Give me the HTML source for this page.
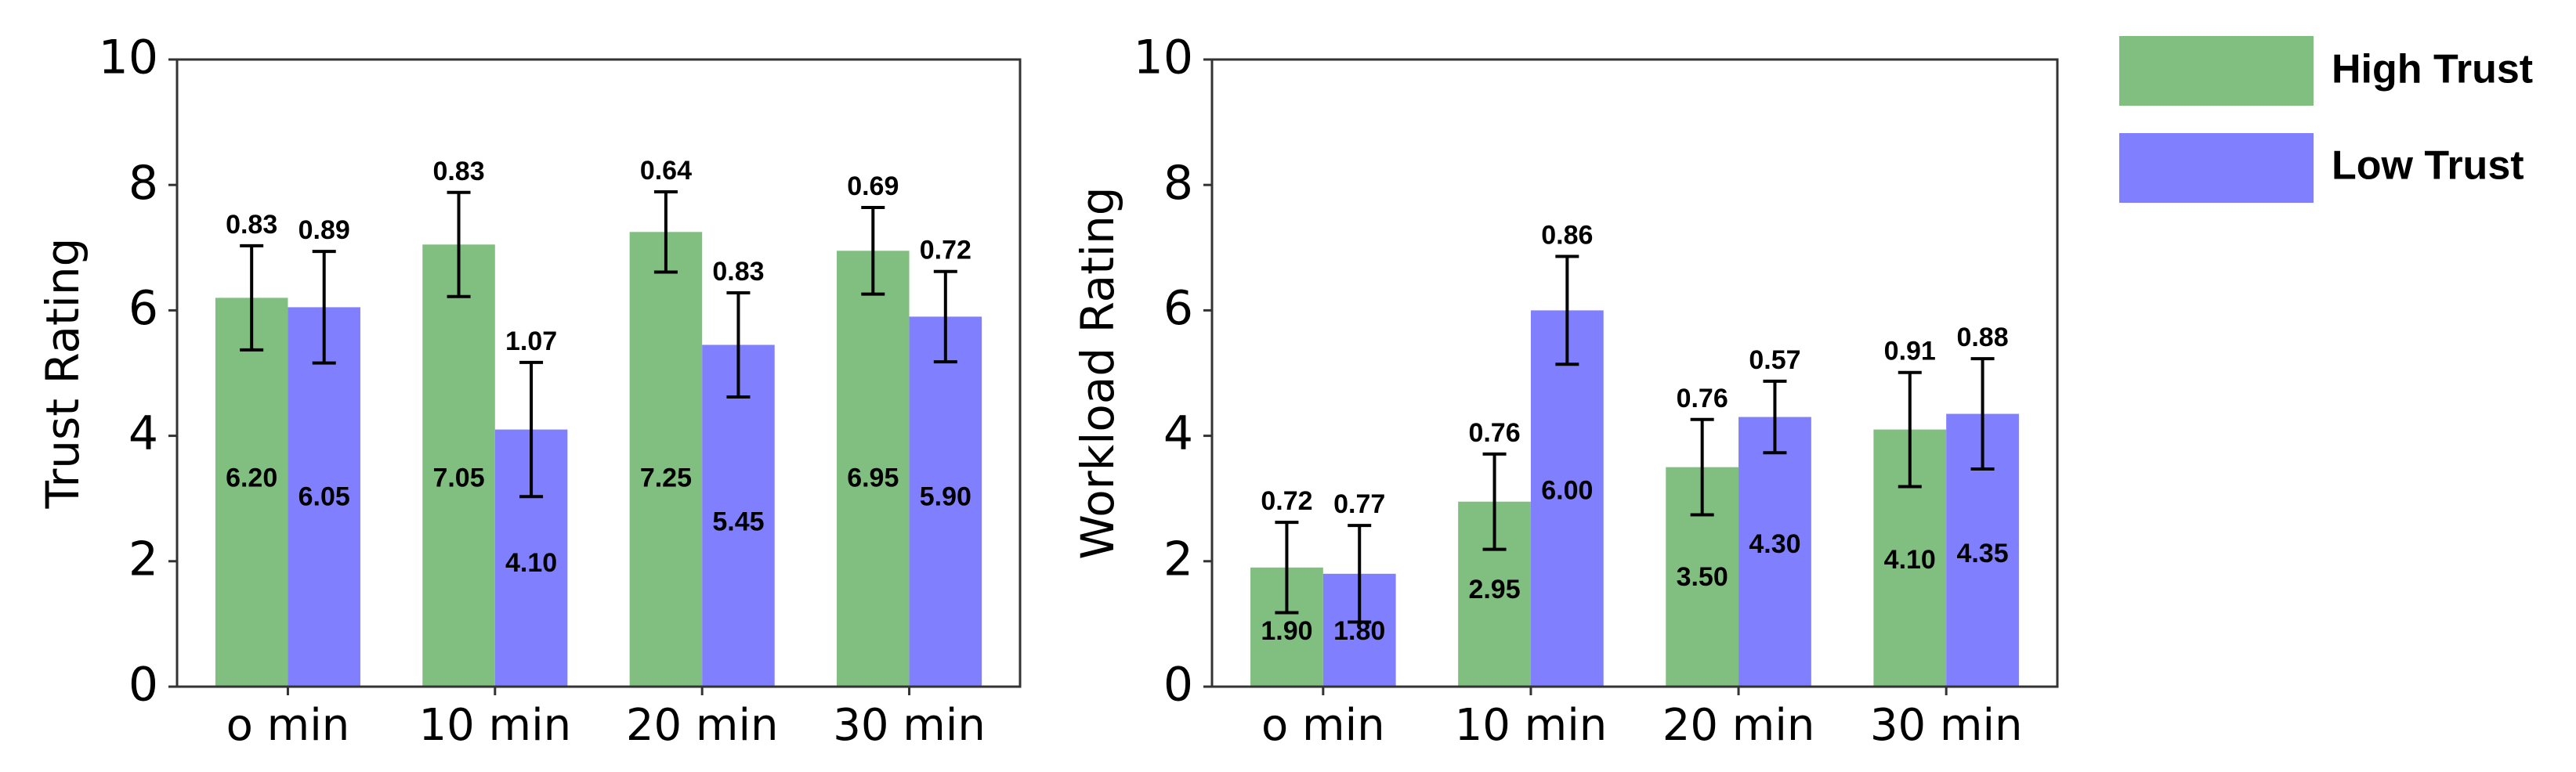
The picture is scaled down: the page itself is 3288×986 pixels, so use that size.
<!DOCTYPE html>
<html><head><meta charset="utf-8"><style>
html,body{margin:0;padding:0;background:#fff;}
svg{display:block;font-family:"DejaVu Sans","Liberation Sans",sans-serif;}
</style></head><body>
<svg id="chart" xmlns="http://www.w3.org/2000/svg" width="3288" height="986" viewBox="0 0 3288 986">
<g>
  <rect x="2705" y="46" width="248" height="89" fill="#80bf80"/>
  <text x="2976" y="92" font-size="52" font-weight="bold" dominant-baseline="middle" font-family="Liberation Sans, sans-serif">High Trust</text>
  <rect x="2705" y="170" width="248" height="89" fill="#8080ff"/>
  <text x="2976" y="215" font-size="52" font-weight="bold" dominant-baseline="middle" font-family="Liberation Sans, sans-serif">Low Trust</text>
</g>
</svg>
<script>
const categories = ["o min", "10 min", "20 min", "30 min"];
const yTicks = [0, 2, 4, 6, 8, 10];
const trustHigh = [6.20, 7.05, 7.25, 6.95];
const trustLow = [6.05, 4.10, 5.45, 5.90];
const trustHighErr = [0.83, 0.83, 0.64, 0.69];
const trustLowErr = [0.89, 1.07, 0.83, 0.72];
const trustHighLabelAt = [3.3, 3.3, 3.3, 3.3];
const trustLowLabelAt = [3.0, 1.95, 2.6, 3.0];
const workHigh = [1.90, 2.95, 3.50, 4.10];
const workLow = [1.80, 6.00, 4.30, 4.35];
const workHighErr = [0.72, 0.76, 0.76, 0.91];
const workLowErr = [0.77, 0.86, 0.57, 0.88];
const workHighLabelAt = [0.86, 1.52, 1.72, 2.0];
const workLowLabelAt = [0.86, 3.1, 2.25, 2.1];

const NS = "http://www.w3.org/2000/svg";
const svg = document.getElementById("chart");
function mk(tag, attrs, parent) {
  const e = document.createElementNS(NS, tag);
  for (const k in attrs) e.setAttribute(k, attrs[k]);
  parent.appendChild(e);
  return e;
}
const ANN = "Liberation Sans, sans-serif";

function drawChart(prefix, left, right, title, high, low, highErr, lowErr, highLab, lowLab) {
  const top = 76, bottom = 877;
  const g = mk("g", {}, svg);
  
  
  const unitX = (right - left) / 4.07;
  const xs = i => left + unitX * (0.535 + i);
  const ys = v => bottom - (v - 0) / 10 * (bottom - top);
  const bw = unitX * 0.35;
  for (let i = 0; i < categories.length; i++) {
    const series = [[high, highErr, highLab, "#80bf80", -1, "high"], [low, lowErr, lowLab, "#8080ff", 0, "low"]];
    for (const s of series) {
      const v = s[0][i], err = s[1][i];
      const x0 = xs(i) + s[4] * bw;
      const r = mk("rect", {x: x0, y: ys(v), width: bw, height: bottom - ys(v), fill: s[3]}, g);
      
      
      const cx = x0 + bw / 2;
      const eg = mk("g", {stroke: "#000", "stroke-width": 4}, g);
      
      
      mk("line", {x1: cx, x2: cx, y1: ys(v + err), y2: ys(v - err)}, eg);
      mk("line", {x1: cx - 15, x2: cx + 15, y1: ys(v + err), y2: ys(v + err)}, eg);
      mk("line", {x1: cx - 15, x2: cx + 15, y1: ys(v - err), y2: ys(v - err)}, eg);
      const et = mk("text", {x: cx, y: ys(v + err) - 25, "font-size": 34, "font-weight": "bold", "font-family": ANN, "text-anchor": "middle", "dominant-baseline": "middle"}, g);
      et.textContent = err.toFixed(2);
      
      
      const vt = mk("text", {x: cx, y: ys(s[2][i]), "font-size": 34, "font-weight": "bold", "font-family": ANN, "text-anchor": "middle", "dominant-baseline": "middle"}, g);
      vt.textContent = v.toFixed(2);
      
      
    }
    const tk = mk("line", {x1: xs(i), x2: xs(i), y1: bottom, y2: bottom + 11, stroke: "#333", "stroke-width": 3}, g);
    
    
    const tl = mk("text", {x: xs(i), y: 930, "font-size": 56, "text-anchor": "middle", "dominant-baseline": "middle"}, g);
    tl.textContent = categories[i];
    
    
  }
  for (const t of yTicks) {
    const tk = mk("line", {x1: left - 11, x2: left, y1: ys(t), y2: ys(t), stroke: "#333", "stroke-width": 3}, g);
    
    
    const tl = mk("text", {x: left - 24, y: ys(t) + 1, "font-size": 60, "text-anchor": "end", "dominant-baseline": "middle"}, g);
    tl.textContent = t;
    
    
  }
  const fr = mk("rect", {x: left, y: top, width: right - left, height: bottom - top, fill: "none", stroke: "#333", "stroke-width": 3}, g);
  
  
  const lx = left - 142;
  const yl = mk("text", {x: lx, y: (top + bottom) / 2, "font-size": 58, "text-anchor": "middle", "dominant-baseline": "middle", transform: "rotate(-90 " + lx + " " + ((top + bottom) / 2) + ")"}, g);
  yl.textContent = title;
  
  
}
drawChart("trust", 226, 1302, "Trust Rating", trustHigh, trustLow, trustHighErr, trustLowErr, trustHighLabelAt, trustLowLabelAt);
drawChart("workload", 1547, 2626, "Workload Rating", workHigh, workLow, workHighErr, workLowErr, workHighLabelAt, workLowLabelAt);
</script>
</body></html>
